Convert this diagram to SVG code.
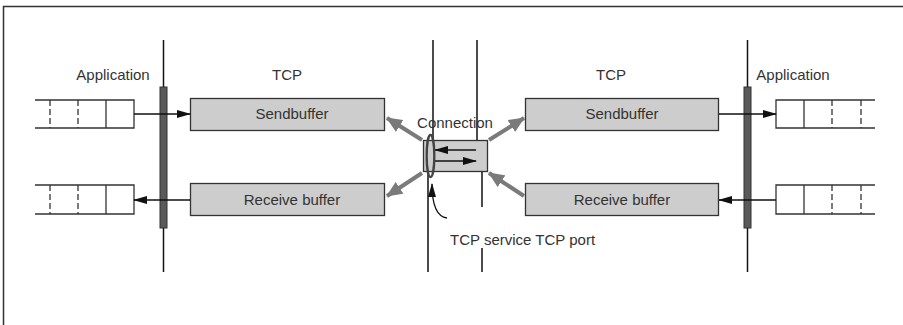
<svg xmlns="http://www.w3.org/2000/svg" width="903" height="325" viewBox="0 0 903 325">
<style>
.t{font-family:"Liberation Sans",Arial,sans-serif;font-size:15px;fill:#333}
.ln{stroke:#111;stroke-width:1.5;fill:none}
.q{stroke:#333;stroke-width:1.3;fill:none}
.qd{stroke:#333;stroke-width:1.3;fill:none;stroke-dasharray:6,3}
.buf{fill:#cdcdcd;stroke:#333;stroke-width:1.3}
.bar{fill:#5a5a5a;stroke:#333;stroke-width:1}
.ga{stroke:#7a7a7a;stroke-width:4;fill:none;marker-end:url(#ga)}
.ba{stroke:#111;stroke-width:1.3;fill:none;marker-end:url(#ba)}
</style>
<defs>
<marker id="ba" markerWidth="14" markerHeight="10" refX="13" refY="5" orient="auto" markerUnits="userSpaceOnUse">
<path d="M0,1 L14,5 L0,9 Z" fill="#111"/>
</marker>
<marker id="ga" markerWidth="16" markerHeight="14" refX="15" refY="7" orient="auto" markerUnits="userSpaceOnUse">
<path d="M0,0 L16,7 L0,14 Z" fill="#7a7a7a"/>
</marker>
</defs>
<g id="frame">
<path d="M3.5,325 L3.5,6.5 L903,6.5" stroke="#333" stroke-width="1.5" fill="none"/>
</g>
<g id="lines">
<line class="ln" x1="163.5" y1="40" x2="163.5" y2="272"/>
<line class="ln" x1="747.5" y1="40" x2="747.5" y2="272"/>
<line class="ln" x1="433" y1="40" x2="433" y2="140"/>
<line class="ln" x1="428" y1="172" x2="428" y2="272"/>
<line class="ln" x1="477" y1="40" x2="477" y2="140"/>
<line class="ln" x1="482" y1="172" x2="482" y2="207"/>
<line class="ln" x1="482" y1="248" x2="482" y2="272"/>
</g>
<g id="app-left-send">
<path class="q" d="M35,100 H134 V128 H35 M106,100 V128"/>
<path class="qd" d="M50,100 V128 M78,100 V128"/>
</g>
<g id="app-left-recv">
<path class="q" d="M35,185 H134 V214 H35 M106,185 V214"/>
<path class="qd" d="M50,185 V214 M78,185 V214"/>
</g>
<g id="app-right-send">
<path class="q" d="M875,100 H776 V128 H875 M804,100 V128"/>
<path class="qd" d="M832,100 V128 M861,100 V128"/>
</g>
<g id="app-right-recv">
<path class="q" d="M875,185 H776 V214 H875 M804,185 V214"/>
<path class="qd" d="M832,185 V214 M861,185 V214"/>
</g>
<g id="bar-left"><rect class="bar" x="160" y="87" width="7" height="141"/></g>
<g id="bar-right"><rect class="bar" x="744" y="87" width="7" height="141"/></g>
<g id="send-left">
<rect class="buf" x="190.5" y="98.5" width="194" height="32"/>
<text class="t" x="292" y="119" text-anchor="middle">Sendbuffer</text>
</g>
<g id="recv-left">
<rect class="buf" x="190.5" y="183.5" width="194" height="32"/>
<text class="t" x="292" y="205" text-anchor="middle">Receive buffer</text>
</g>
<g id="send-right">
<rect class="buf" x="525.5" y="98.5" width="193" height="32"/>
<text class="t" x="622" y="119" text-anchor="middle">Sendbuffer</text>
</g>
<g id="recv-right">
<rect class="buf" x="525.5" y="183.5" width="193" height="32"/>
<text class="t" x="622" y="205" text-anchor="middle">Receive buffer</text>
</g>
<g id="connection">
<rect class="buf" x="423.5" y="140.5" width="64" height="31"/>
<line class="ba" x1="476" y1="150" x2="435" y2="150"/>
<line class="ba" x1="434" y1="161" x2="476" y2="161"/>
<ellipse cx="430.5" cy="156" rx="3.8" ry="21" fill="none" stroke="#444" stroke-width="2.3"/>
<text class="t" x="455" y="128" text-anchor="middle">Connection</text>
</g>
<g id="labels">
<text class="t" x="113" y="80" text-anchor="middle">Application</text>
<text class="t" x="793" y="80" text-anchor="middle">Application</text>
<text class="t" x="287" y="80" text-anchor="middle">TCP</text>
<text class="t" x="611" y="80" text-anchor="middle">TCP</text>
<text class="t" x="450" y="245">TCP service TCP port</text>
</g>
<g id="connectors">
<line class="ba" x1="134" y1="114" x2="190" y2="114"/>
<line class="ba" x1="190" y1="200" x2="134" y2="200"/>
<line class="ba" x1="719" y1="114" x2="776" y2="114"/>
<line class="ba" x1="776" y1="200" x2="719" y2="200"/>
<line class="ga" x1="422" y1="140" x2="387" y2="118"/>
<line class="ga" x1="422" y1="173" x2="387" y2="196"/>
<line class="ga" x1="489" y1="140" x2="524" y2="118"/>
<line class="ga" x1="524" y1="196" x2="489" y2="173"/>
<path class="ba" d="M447,218 Q432,216 432,184"/>
</g>
</svg>
